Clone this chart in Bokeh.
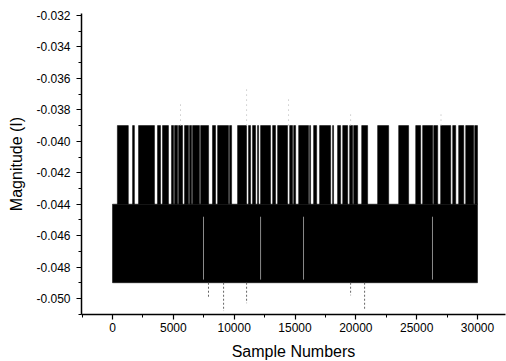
from bokeh.plotting import figure
from bokeh.models import Range1d, SingleIntervalTicker, ColumnDataSource, PrintfTickFormatter
from bokeh.embed import file_html
from bokeh.resources import INLINE

# ---- data ----
band_start = [0]
band_end = [30000]
band_low = [-0.049]
band_high = [-0.044]
burst_level = -0.039

burst_start = [400, 1650, 2140, 3700, 4110, 4850, 5100, 5430, 5920, 6330, 6580, 7240,
               8220, 8640, 9620, 10280, 11180, 11510, 11920, 12170, 13160, 13570, 14560,
               14890, 15300, 16200, 16530, 17020, 18090, 18500, 18920, 19490, 19820, 20480,
               21790, 23520, 24920, 25490, 26400, 26970, 27960, 28450, 29030, 29770]
burst_end = [1300, 1800, 3450, 3950, 4600, 5020, 5350, 5760, 6250, 6500, 7150, 7900,
             8470, 9540, 9790, 11020, 11350, 11760, 12010, 12990, 13400, 14390, 14800,
             15050, 16120, 16280, 16780, 17930, 18170, 18750, 19330, 19740, 20150, 20970,
             22700, 24340, 25330, 26320, 26730, 27800, 28210, 28870, 29690, 30000]

dropout_x = [7480, 12170, 15700, 26300]

low_spike_x = [7890, 9130, 11020, 19570, 20720]
low_spike_y = [-0.0500, -0.0508, -0.0503, -0.0498, -0.0507]

high_spike_x = [5590, 11020, 14470, 19570, 27000]
high_spike_y = [-0.0376, -0.0366, -0.0372, -0.0382, -0.0382]

x_ticks = [0, 5000, 10000, 15000, 20000, 25000, 30000]

# ---- figure ----
p = figure(output_backend="svg", toolbar_location=None,
           frame_width=424, frame_height=301,
           min_border_left=81, min_border_right=1, min_border_top=13, min_border_bottom=47,
           x_range=Range1d(-2548, 32301), y_range=Range1d(-0.05102, -0.03187))
p.outline_line_color = None
p.xgrid.visible = False
p.ygrid.visible = False
p.background_fill_color = "white"
p.border_fill_color = "white"

src_band = ColumnDataSource(dict(left=band_start, right=band_end, bottom=band_low, top=band_high))
p.quad(left="left", right="right", bottom="bottom", top="top", source=src_band,
       fill_color="black", line_color="black", line_width=0.5)

src_burst = ColumnDataSource(dict(left=burst_start, right=burst_end,
                                  bottom=[band_high[0]] * len(burst_start),
                                  top=[burst_level] * len(burst_start)))
p.quad(left="left", right="right", bottom="bottom", top="top", source=src_burst,
       fill_color="black", line_color="black", line_width=0.5)

p.segment(x0=dropout_x, x1=dropout_x, y0=[band_low[0] + 0.0002] * len(dropout_x),
          y1=[band_high[0] - 0.0008] * len(dropout_x), line_color="#8a8a8a", line_width=1)

p.segment(x0=low_spike_x, x1=low_spike_x, y0=[band_low[0]] * len(low_spike_x), y1=low_spike_y,
          line_color="#666666", line_width=1, line_dash="2 2")
p.segment(x0=high_spike_x, x1=high_spike_x, y0=[burst_level] * len(high_spike_x), y1=high_spike_y,
          line_color="#b0b0b0", line_width=1, line_dash="1 4")

font = "Liberation Sans"
for ax in (p.xaxis[0], p.yaxis[0]):
    ax.axis_line_color = "black"
    ax.axis_line_width = 1.5
    ax.major_tick_line_color = "black"
    ax.minor_tick_line_color = "black"
    ax.major_tick_line_width = 1.2
    ax.minor_tick_line_width = 1
    ax.major_tick_in = 0
    ax.major_tick_out = 5
    ax.minor_tick_in = 0
    ax.minor_tick_out = 3
    ax.major_label_text_font = font
    ax.major_label_text_font_size = "12px"
    ax.major_label_text_color = "black"
    ax.axis_label_text_font = font
    ax.axis_label_text_font_size = "16px"
    ax.axis_label_text_font_style = "normal"
    ax.axis_label_text_color = "black"

p.xaxis.ticker = SingleIntervalTicker(interval=5000, num_minor_ticks=2)
p.xaxis.major_label_overrides = {t: str(t) for t in x_ticks}
p.xaxis.major_label_standoff = 3
p.xaxis.axis_label = "Sample Numbers"
p.xaxis.axis_label_standoff = 8

p.yaxis.ticker = SingleIntervalTicker(interval=0.002, num_minor_ticks=2)
p.yaxis.formatter = PrintfTickFormatter(format="%.3f")
p.yaxis.major_label_standoff = 6
p.yaxis.axis_label = "Magnitude (I)"
p.yaxis.axis_label_standoff = 8

open("out.html", "w").write(file_html(p, INLINE))
